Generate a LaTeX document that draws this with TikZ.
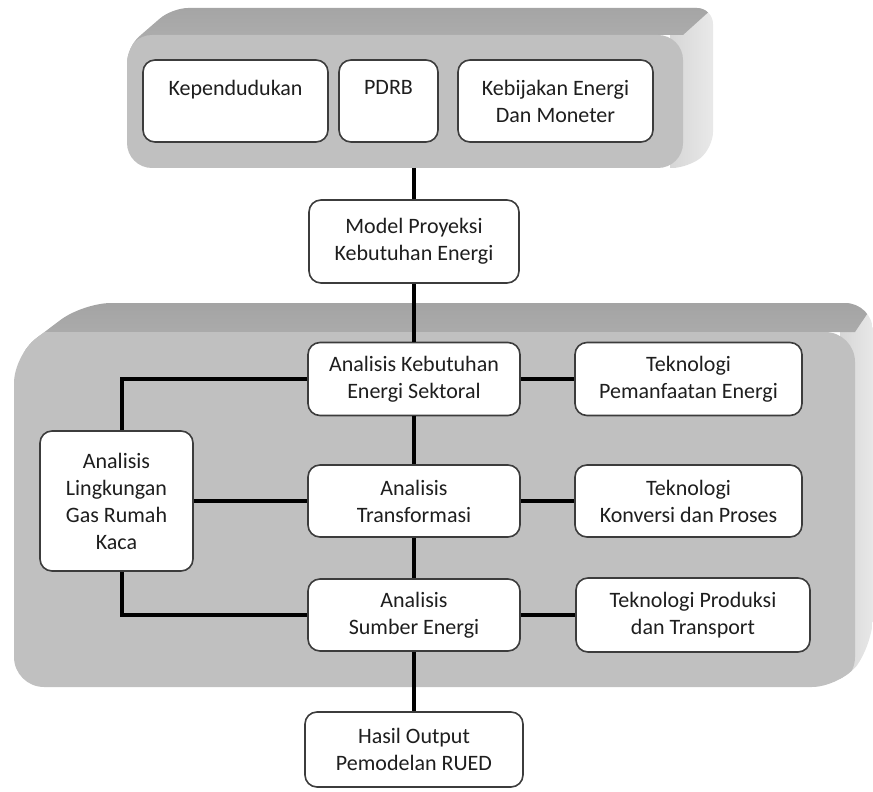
\documentclass[tikz,border=0pt]{standalone}
\usepackage{fontspec}
\setmainfont{Carlito}
\usepackage{xcolor}
\usetikzlibrary{positioning}

\definecolor{faceGray}{RGB}{192,192,192}
\definecolor{topGray}{RGB}{158,158,158}
\definecolor{topLight}{RGB}{178,178,178}
\definecolor{sideGray}{RGB}{214,214,214}
\definecolor{sideLight}{RGB}{236,236,236}
\definecolor{boxLine}{RGB}{60,60,60}
\definecolor{textDark}{RGB}{30,30,30}

\begin{document}
\begin{tikzpicture}[x=0.5pt, y=-0.5pt,
			box/.style={draw=boxLine, line width=0.8pt, fill=white, rounded corners=6pt, align=center, inner sep=2pt, text=textDark, font=\fontsize{11}{13.5}\selectfont},
			link/.style={line width=2pt}
			]
			\useasboundingbox (0,0) rectangle (873,792);
			
			% Input panel
			\begin{scope}
				\path[clip, rounded corners=8pt] (172,8) -- (713,8) -- (713,148) -- (688,168) -- (127,168) -- (127,47) -- cycle;
				\shade[left color=sideGray, right color=sideLight] (670,-20) rectangle (720,200);
				\shade[top color=topGray, bottom color=topLight] (0,-20) -- (744,-20) -- (683,35) -- (152,35) -- (127,60) -- (0,60) -- cycle;
				\fill[faceGray, rounded corners=12.5pt] (127,35) rectangle (683,168);
			\end{scope}
			\coordinate (inbase) at (414,168);
			
			% Analysis panel
			\begin{scope}
				\path[clip, rounded corners=14pt] (83,303) -- (873,303) -- (873,645) -- (840,687) -- (14,687) -- (14,355) -- cycle;
				\shade[left color=sideGray, right color=sideLight] (840,280) rectangle (880,700);
				\shade[top color=topGray, bottom color=topLight] (0,280) -- (890,280) -- (855,332) -- (44,332) -- (14,362) -- (0,362) -- cycle;
				\fill[faceGray, rounded corners=15pt] (14,332) rectangle (855,687);
			\end{scope}
			
			% Inputs
			\node[box, minimum width=92.5pt, minimum height=41pt] (kepend) at (235.5,101) {Kependudukan\\\mbox{}};
			\node[box, minimum width=49.5pt, minimum height=41pt] (pdrb) at (388.5,101) {PDRB\\\mbox{}};
			\node[box, minimum width=97.5pt, minimum height=41pt] (kebijakan) at (555.5,101) {Kebijakan Energi\\Dan Moneter};
			
			% Model
			\node[box, minimum width=105pt, minimum height=41.5pt] (model) at (414,241.5) {Model Proyeksi\\Kebutuhan Energi};
			
			% Analysis
			\node[box, minimum width=106pt, minimum height=36.5pt] (kebutuhan) at (414,379) {Analisis Kebutuhan\\Energi Sektoral};
			\node[box, minimum width=106pt, minimum height=36pt] (transformasi) at (414,501) {Analisis\\Transformasi};
			\node[box, minimum width=106pt, minimum height=36pt] (sumber) at (414,615) {Analisis\\Sumber Energi};
			\node[box, minimum width=76.5pt, minimum height=70pt] (lingkungan) at (116.5,501) {Analisis\\Lingkungan\\Gas Rumah\\Kaca};
			
			% Technology
			\node[box, minimum width=113.5pt, minimum height=36.5pt] (pemanfaatan) at (688.5,379) {Teknologi\\Pemanfaatan Energi};
			\node[box, minimum width=113.5pt, minimum height=36pt] (konversi) at (688.5,501) {Teknologi\\Konversi dan Proses};
			\node[box, minimum width=117pt, minimum height=37pt] (produksi) at (693,615) {Teknologi Produksi\\dan Transport};
			
			% Output
			\node[box, minimum width=109pt, minimum height=37.5pt] (hasil) at (414,749.5) {Hasil Output\\Pemodelan RUED};
			
			% Links
			\draw[link] (inbase) -- (model);
			\draw[link] (model) -- (kebutuhan);
			\draw[link] (kebutuhan) -- (transformasi);
			\draw[link] (transformasi) -- (sumber);
			\draw[link] (sumber) -- (hasil);
			\draw[link] (kebutuhan) -- (pemanfaatan);
			\draw[link] (transformasi) -- (konversi);
			\draw[link] (sumber) -- (produksi);
			\draw[link] ([xshift=2.5pt]lingkungan.north) |- (kebutuhan.west);
			\draw[link] (lingkungan) -- (transformasi);
			\draw[link] ([xshift=2.5pt]lingkungan.south) |- (sumber.west);
			
		\end{tikzpicture}
\end{document}
